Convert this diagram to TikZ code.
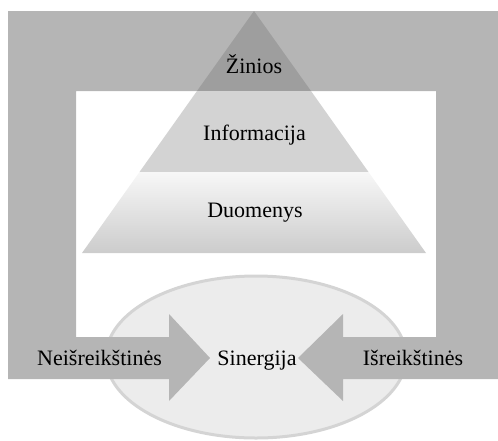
\documentclass[tikz,border=0pt]{standalone}
\usepackage{fontspec}
\setmainfont{Liberation Serif}
\usepackage{tikz}
\usepackage{xcolor}
\usetikzlibrary{positioning}

\definecolor{framegray}{HTML}{B5B5B5}
\definecolor{topgray}{HTML}{9E9E9E}
\definecolor{midgray}{HTML}{D3D3D3}
\definecolor{ovalfill}{HTML}{ECECEC}
\definecolor{ovalline}{HTML}{D4D4D4}

\begin{document}
\begin{tikzpicture}[
    x=0.5pt, y=-0.5pt,
    label/.style={font=\fontsize{11}{13}\selectfont, inner sep=0pt, anchor=base},
    frame/.style={fill=framegray, draw=none},
    oval/.style={fill=ovalfill, draw=ovalline, line width=1.5pt}
]
\useasboundingbox (0,0) rectangle (498,440);

% Synergy oval
\draw[oval] (256,357) ellipse [x radius=150, y radius=81];

% Frame with the two arrows
\fill[frame] (8,11) -- (498,11) -- (498,379) -- (343,379) -- (343,401)
  -- (298,358) -- (343,314) -- (343,337) -- (436,337) -- (436,91)
  -- (76,91) -- (76,337) -- (169,337) -- (169,314) -- (210,358)
  -- (169,401) -- (169,379) -- (8,379) -- cycle;

% Pyramid
\fill[topgray] (254,11) -- (311,91) -- (197,91) -- cycle;
\fill[midgray] (197,91) -- (311,91) -- (368.5,172) -- (139.5,172) -- cycle;
\shade[top color=white!97!black, bottom color=black!20]
  (139.5,172) -- (368.5,172) -- (426,253) -- (82,253) -- cycle;

% Labels
\node[label] (zinios) at (254,73) {Žinios};
\node[label] (info) at (254.5,140) {Informacija};
\node[label] (data) at (255,217) {Duomenys};
\node[label] (synergy) at (257,365) {Sinergija};
\node[label] (tacit) at (99.5,365) {Neišreikštinės};
\node[label] (explicit) at (413,365) {Išreikštinės};

\end{tikzpicture}
\end{document}
